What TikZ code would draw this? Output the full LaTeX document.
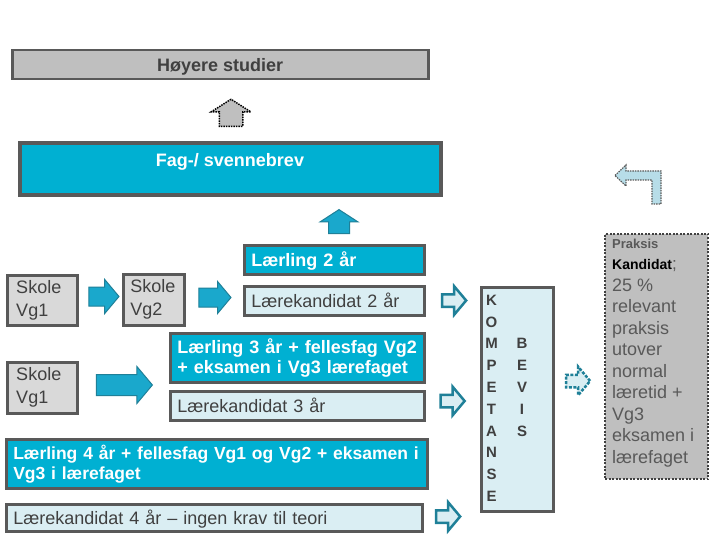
\documentclass[tikz,border=0pt]{standalone}
\usepackage{fontspec}
\setmainfont{Liberation Sans}
\usepackage{xcolor}
\usetikzlibrary{shapes.arrows}

\definecolor{fagblaa}{RGB}{0,176,210}
\definecolor{pilblaa}{RGB}{26,168,204}
\definecolor{pilkant}{RGB}{31,128,152}
\definecolor{lysblaa}{RGB}{218,238,243}
\definecolor{bueblaa}{RGB}{183,221,232}
\definecolor{kant}{RGB}{89,89,89}
\definecolor{skolegraa}{RGB}{217,217,217}
\definecolor{graa}{RGB}{191,191,191}
\definecolor{tekst}{RGB}{64,64,64}

\begin{document}
\begin{tikzpicture}[x=1pt,y=-1pt,
box/.style={draw=kant,line width=2.5pt,anchor=north west,inner xsep=7pt,inner ysep=0pt,align=left,
    font=\fontsize{18}{20}\selectfont},
enlinje/.style={text height=13pt,text depth=0pt},
laerling/.style={box,fill=fagblaa,text=white,font=\fontsize{18}{20}\selectfont\bfseries},
kandidat/.style={box,enlinje,fill=lysblaa,text=tekst},
skole/.style={box,fill=skolegraa,text=tekst,inner xsep=9pt,font=\fontsize{18}{23}\selectfont},
pil/.style={single arrow,draw=pilkant,fill=pilblaa,line width=1pt,inner xsep=0pt,minimum width=0pt,
    single arrow tip angle=100},
tompil/.style={single arrow,draw=pilkant,fill=lysblaa,line width=2.5pt,inner xsep=0pt,inner ysep=5pt,
    minimum width=0pt,minimum height=24pt,single arrow head extend=8pt,single arrow tip angle=100}]
\path[use as bounding box,fill=white] (0,0) rectangle (720,540);

% topp
\node (hoyere) [box,enlinje,fill=graa,text=tekst,align=center,font=\fontsize{18}{20}\selectfont\bfseries,
    minimum width=416pt,minimum height=29pt] at (11,49) {Høyere studier};
\node (fag) [box,line width=4pt,fill=fagblaa,minimum width=421pt,minimum height=52pt,
    label={[anchor=north,inner sep=0pt,yshift=-12pt,text=white,enlinje,
      font=\fontsize{18}{20}\selectfont\bfseries]north:Fag-/ svennebrev}] at (17.5,141.5) {};

% skole
\node (skole1) [skole,text width=52pt,minimum width=70pt,minimum height=50pt] at (6,274) {Skole\\Vg1};
\node (skole2) [skole,inner xsep=7pt,text width=47pt,minimum width=61pt,minimum height=51pt] at (122,273) {Skole\\Vg2};
\node (skole3) [skole,text width=52pt,minimum width=70pt,minimum height=51pt] at (6,361) {Skole\\Vg1};

% lærling og lærekandidat
\node (laer2) [laerling,enlinje,text width=166pt,minimum width=180pt,minimum height=29pt] at (243,244) {Lærling 2 år};
\node (kand2) [kandidat,text width=166pt,minimum width=180pt,minimum height=29pt] at (243,285) {Lærekandidat 2 år};
\node (laer3) [laerling,text width=240pt,minimum width=254pt,minimum height=49pt] at (169,332)
    {Lærling 3 år + fellesfag Vg2\\+ eksamen i Vg3 lærefaget};
\node (kand3) [kandidat,text width=240pt,minimum width=254pt,minimum height=29pt] at (169,390) {Lærekandidat 3 år};
\node (laer4) [laerling,font=\fontsize{17.5}{20}\selectfont\bfseries,text width=407pt,
    minimum width=421pt,minimum height=49pt] at (5,438)
    {\mbox{Lærling 4 år + fellesfag Vg1 og Vg2 + eksamen i}\\Vg3 i lærefaget};
\node (kand4) [kandidat,text width=402pt,minimum width=416pt,minimum height=27pt] at (5,503)
    {Lærekandidat 4 år – ingen krav til teori};

% kompetansebevis
\node (komp) [box,fill=lysblaa,minimum width=72pt,minimum height=224pt] at (480,286) {};
\node (kompord) [anchor=north,inner sep=0pt,align=center,text=tekst,
    font=\fontsize{15}{21.8}\selectfont\bfseries] at (491.5,294.7) {K\\O\\M\\P\\E\\T\\A\\N\\S\\E};
\node (bevisord) [anchor=north,inner sep=0pt,align=center,text=tekst,
    font=\fontsize{15}{21.8}\selectfont\bfseries] at (522,338.3) {B\\E\\V\\I\\S};

% praksiskandidat
\node (praksis) [box,draw=tekst,line width=2pt,dash pattern=on 2pt off 1.5pt,fill=graa,
    minimum width=103pt,minimum height=245pt] at (604,233) {};
\node (praksisord) [anchor=north west,inner sep=0pt,align=left,text=kant,
    font=\fontsize{18}{21.5}\selectfont] at (612,238.5)
    {{\fontsize{13}{15}\selectfont\bfseries Praksis}\\
     {\fontsize{14}{16}\selectfont\bfseries\color{black}Kandidat}{\fontsize{17}{20}\selectfont ;}\\
     25 \%\\relevant\\praksis\\utover\\normal\\læretid +\\Vg3\\eksamen i\\lærefaget};

% piler
\node (pil1) [pil,inner ysep=9pt,single arrow head extend=7.5pt,minimum height=30pt] at (100,296.5) {};
\node (pil2) [pil,inner ysep=9pt,single arrow head extend=6.5pt,minimum height=32pt] at (211,297.5) {};
\node (pil3) [pil,inner ysep=10pt,single arrow head extend=8pt,minimum height=56pt] at (120,385) {};
\node (oppfag) [pil,rotate=90,inner ysep=10pt,single arrow head extend=8.5pt,
    minimum height=24pt,single arrow tip angle=114] at (339,225) {};
\node (opphoy) [pil,rotate=90,draw=black,fill=graa,line width=1.5pt,dash pattern=on 1.5pt off 1pt,
    inner ysep=11pt,single arrow head extend=8pt,minimum height=27pt,single arrow tip angle=115] at (231,116.5) {};
\node (ut2) [tompil] at (451.5,300.5) {};
\node (ut3) [tompil] at (450,401) {};
\node (ut4) [tompil] at (445.5,516.5) {};
\node (utkomp) [tompil,dash pattern=on 3pt off 1.5pt] at (575.5,381) {};

% bøyd pil tilbake
\draw[draw=kant,fill=bueblaa,line width=1.2pt,dash pattern=on 1.5pt off 1pt]
    (615,175.5) -- (626,165) -- (626,171) -- (661,171) -- (661,204) -- (652,204)
    -- (652,180) -- (626,180) -- (626,186) -- cycle;
\end{tikzpicture}
\end{document}
